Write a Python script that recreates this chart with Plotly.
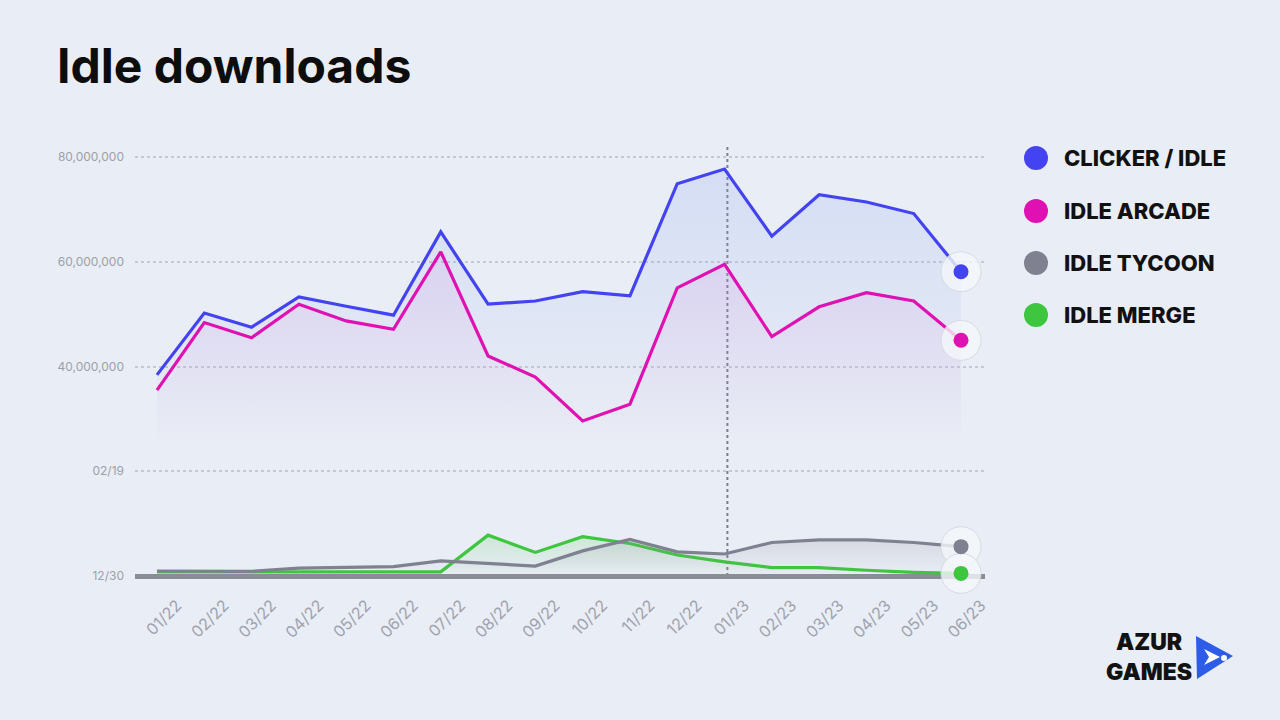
import plotly.graph_objects as go

# ---------------- data ----------------
months = ["01/22", "02/22", "03/22", "04/22", "05/22", "06/22", "07/22", "08/22", "09/22",
          "10/22", "11/22", "12/22", "01/23", "02/23", "03/23", "04/23", "05/23", "06/23"]
clicker_idle = [38.4, 50.2, 47.5, 53.3, 51.5, 49.8, 65.7, 51.9, 52.5,
                54.3, 53.5, 74.9, 77.7, 64.9, 72.8, 71.4, 69.2, 58.1]
idle_arcade = [35.5, 48.4, 45.5, 51.9, 48.7, 47.1, 61.9, 42.0, 38.0,
               29.6, 32.8, 55.0, 59.5, 45.7, 51.4, 54.1, 52.5, 45.0]
idle_tycoon = [0.95, 0.9, 0.9, 1.5, 1.7, 1.8, 2.9, 2.4, 1.9,
               4.8, 7.0, 4.6, 4.2, 6.4, 6.9, 6.9, 6.4, 5.6]
idle_merge = [0.8, 0.8, 0.8, 0.8, 0.8, 0.8, 0.8, 7.8, 4.5,
              7.5, 6.2, 4.0, 2.7, 1.6, 1.6, 1.1, 0.7, 0.5]
scale = 1e6
series_names = ["CLICKER / IDLE", "IDLE ARCADE", "IDLE TYCOON", "IDLE MERGE"]
y_tickvals = [0, 20e6, 40e6, 60e6, 80e6]
y_ticktext = ["12/30", "02/19", "40,000,000", "60,000,000", "80,000,000"]
marker_month = "01/23"
logo_text = "AZUR<br>GAMES"

# ---------------- styles ----------------
BG = "#e9edf5"
colors = ["#4343f2", "#e011b2", "#7f8190", "#3ec63e"]
fill_rgb = ["130,160,240", "215,130,220", "140,142,155", "80,200,80"]
fill_alpha = [0.2, 0.17, 0.2, 0.18]
fill_start = [25e6, 25e6, 0, 0]

W, H = 1280, 720
L, R, T, B = 135, 295, 140, 135
PW, PH = W - L - R, H - T - B
ZERO_PX, TOP_PX, TOP_VAL = 576, 157, 80e6
ppu = (ZERO_PX - TOP_PX) / TOP_VAL
y_range = [-(H - B - ZERO_PX) / ppu, (ZERO_PX - T) / ppu]
x_range = [-0.465, len(months) - 1 + 0.507]


def px_x(px):
    return (px - L) / PW


def px_y(py):
    return (H - B - py) / PH


fig = go.Figure()
all_series = [clicker_idle, idle_arcade, idle_merge, idle_tycoon]
order = [0, 1, 3, 2]
for k, idx in zip(range(4), order):
    vals = [v * scale for v in all_series[k]]
    fig.add_trace(go.Scatter(
        x=months, y=vals, mode="lines",
        line=dict(color=colors[idx], width=3.2),
        fill="tozeroy",
        fillgradient=dict(type="vertical",
                          colorscale=[[0, f"rgba({fill_rgb[idx]},0)"],
                                      [1, f"rgba({fill_rgb[idx]},{fill_alpha[idx]})"]],
                          start=fill_start[idx], stop=max(vals)),
        hoverinfo="skip", showlegend=False, cliponaxis=False,
    ))

# end halos and dots
last_x = [months[-1]] * 4
last_y = [s[-1] * scale for s in [clicker_idle, idle_arcade, idle_tycoon, idle_merge]]
fig.add_trace(go.Scatter(
    x=last_x, y=last_y, mode="markers",
    marker=dict(size=40, color="rgba(244,246,250,0.8)",
                line=dict(width=1, color="rgba(212,215,224,0.9)")),
    hoverinfo="skip", showlegend=False, cliponaxis=False,
))
fig.add_trace(go.Scatter(
    x=last_x, y=last_y, mode="markers",
    marker=dict(size=15, color=colors, line=dict(width=0)),
    hoverinfo="skip", showlegend=False, cliponaxis=False,
))

# vertical dotted marker line
xi = months.index(marker_month) + 0.06
fig.add_shape(type="line", xref="x", yref="y", x0=xi, x1=xi,
              y0=0, y1=y_range[1] - 1e6,
              line=dict(color="#7d808c", width=2, dash="dot"), layer="below")

# legend
legend_y = [158, 211, 263, 315]
for name, col, cy in zip(series_names, colors, legend_y):
    fig.add_shape(type="circle", xref="paper", yref="paper",
                  x0=px_x(1024), x1=px_x(1048), y0=px_y(cy + 12), y1=px_y(cy - 12),
                  fillcolor=col, line=dict(width=0))
    fig.add_annotation(text=name, xref="paper", yref="paper", x=px_x(1062), y=px_y(cy),
                       xanchor="left", yanchor="middle", showarrow=False,
                       font=dict(family="Inter", size=22, color="#111111", weight=800))

# logo
fig.add_annotation(text=logo_text, xref="paper", yref="paper", x=px_x(1149), y=px_y(657),
                   xanchor="center", yanchor="middle", showarrow=False, align="center",
                   font=dict(family="Inter", size=23, color="#121212", weight=900))


def tri_path(pts):
    return "M " + " L ".join(f"{px_x(a):.5f},{px_y(b):.5f}" for a, b in pts) + " Z"


fig.add_shape(type="path", xref="paper", yref="paper",
              path=tri_path([(1196, 636), (1233, 656), (1197, 679)]),
              fillcolor="#2d5ce9", line=dict(width=0))
fig.add_shape(type="path", xref="paper", yref="paper",
              path=tri_path([(1204, 649), (1220, 657), (1204, 665), (1209, 657)]),
              fillcolor="white", line=dict(width=0))
fig.add_shape(type="circle", xref="paper", yref="paper",
              x0=px_x(1221), x1=px_x(1227), y0=px_y(661), y1=px_y(655),
              fillcolor="white", line=dict(width=0))

fig.update_layout(
    width=W, height=H,
    margin=dict(l=L, r=R, t=T, b=B),
    paper_bgcolor=BG, plot_bgcolor=BG,
    title=dict(text="Idle downloads", x=57 / W, xanchor="left", y=1 - 66 / H, yanchor="middle",
               xref="container", yref="container",
               font=dict(family="Inter", size=48, color="#0d0d0d", weight=700)),
    xaxis=dict(range=x_range, showgrid=False, zeroline=False, showline=False,
               tickangle=-45, ticks="", ticklabelstandoff=7, ticklabelshift=20,
               tickfont=dict(family="Inter", size=16, color="#a0a3ae")),
    yaxis=dict(range=y_range, tickvals=y_tickvals, ticktext=y_ticktext,
               showgrid=True, gridcolor="#c6c9d3", griddash="dot", gridwidth=1.6,
               zeroline=True, zerolinecolor="#8a8d98", zerolinewidth=5,
               showline=False, ticks="", ticklabelstandoff=10,
               tickfont=dict(family="Inter", size=12, color="#9c9fa9")),
    showlegend=False,
)

fig.write_html("out.html")
